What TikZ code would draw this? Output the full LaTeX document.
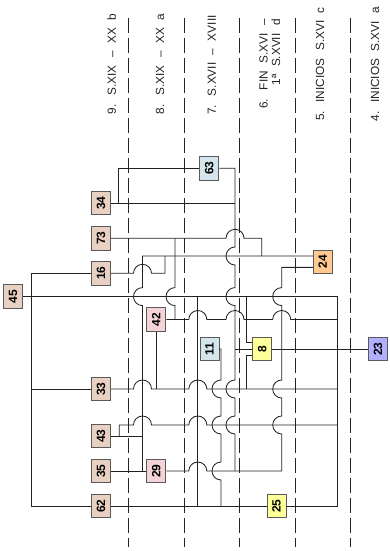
\documentclass[tikz,border=0pt]{standalone}
\usepackage{fontspec}
\setmainfont{Liberation Sans}
\newfontfamily\fasefont[WordSpace=2.3]{Liberation Sans}
\usepackage{tikz}
\definecolor{ueclay}{RGB}{232,208,195}
\definecolor{uepink}{RGB}{244,212,216}
\definecolor{uesky}{RGB}{212,230,236}
\definecolor{ueyellow}{RGB}{255,255,153}
\definecolor{ueorange}{RGB}{255,201,144}
\definecolor{ueviolet}{RGB}{176,176,255}
\definecolor{inkgrey}{RGB}{35,35,35}

\begin{document}
\begin{tikzpicture}[x=1pt,y=-1pt,
    ue/.style={draw=inkgrey!75,line width=0.9pt,minimum width=19pt,minimum height=23.5pt,inner sep=0pt,font=\bfseries\fontsize{12}{12}\selectfont},
    tie/.style={draw=inkgrey,line width=0.85pt},
    fase/.style={draw=inkgrey,line width=1pt,dash pattern=on 15pt off 5pt},
    fase label/.style={rotate=90,inner sep=0pt,align=right,text=inkgrey,font=\fasefont\fontsize{11.8}{12.5}\selectfont}]
    \useasboundingbox (0,0) rectangle (390,551);

    \foreach \xd in {128.5,184,239.5,295,350.5}
        \draw[fase] (\xd,18) -- (\xd,547);

    \node[fase label] (l9) at (111.7,64) {9. S.XIX – XX b};
    \node[fase label] (l8) at (160,64) {8. S.XIX – XX a};
    \node[fase label] (l7) at (211.7,65) {7. S.XVII – XVIII};
    \node[fase label] (l6) at (269.7,64) {6. FIN S.XVI –\\1ª S.XVII d};
    \node[fase label] (l5) at (320,64) {5. INICIOS S.XVI c};
    \node[fase label] (l4) at (375,64) {4. INICIOS S.XVI a};

    \node[ue,fill=ueclay] (n45) at (13,296.6) {\rotatebox{90}{45}};
    \node[ue,fill=ueclay] (n34) at (101,203) {\rotatebox{90}{34}};
    \node[ue,fill=ueclay] (n73) at (101,238.3) {\rotatebox{90}{73}};
    \node[ue,fill=ueclay] (n16) at (101,273.3) {\rotatebox{90}{16}};
    \node[ue,fill=ueclay] (n33) at (101,389) {\rotatebox{90}{33}};
    \node[ue,fill=ueclay] (n43) at (101,436) {\rotatebox{90}{43}};
    \node[ue,fill=ueclay] (n35) at (101,471) {\rotatebox{90}{35}};
    \node[ue,fill=ueclay] (n62) at (101,506) {\rotatebox{90}{62}};
    \node[ue,fill=uesky] (n63) at (209.3,168.3) {\rotatebox{90}{63}};
    \node[ue,fill=uesky] (n11) at (209.5,349) {\rotatebox{90}{11}};
    \node[ue,fill=uepink] (n42) at (156.3,319.5) {\rotatebox{90}{42}};
    \node[ue,fill=uepink] (n29) at (156.3,471) {\rotatebox{90}{29}};
    \node[ue,fill=ueyellow] (n8) at (262.3,349) {\rotatebox{90}{8}};
    \node[ue,fill=ueyellow] (n25) at (276.5,506) {\rotatebox{90}{25}};
    \node[ue,fill=ueorange] (n24) at (322.7,261.7) {\rotatebox{90}{24}};
    \node[ue,fill=ueviolet] (n23) at (378,349) {\rotatebox{90}{23}};

    \draw[tie] (n45.east) -- (337.5,296.6) -- (337.5,506) -- (n25.east);
    \draw[tie] (n25.west) -- (n62.east);
    \draw[tie] (n16.west) -- (31.7,273.3) -- (31.7,506) -- (n62.west);
    \draw[tie] (31.7,389) -- (n33.west);
    \draw[tie] (n16.east) -- (133.5,273.3) arc[start angle=180,end angle=0,radius=9pt] -- (165,273.3) -- (165,256);
    \draw[tie] ([yshift=5.7pt]n24.west) -- (142.5,256) -- (142.5,287.6) arc[start angle=90,end angle=270,radius=9pt] -- (142.5,471);
    \draw[tie] (n34.east) -- (235,203);
    \draw[tie] (118.5,203) -- (118.5,168.3) -- (n63.west);
    \draw[tie] (n63.east) -- (235,168.3) -- (235,247) arc[start angle=90,end angle=270,radius=9pt]
        -- (235,287.6) arc[start angle=90,end angle=270,radius=9pt]
        -- (235,380) arc[start angle=90,end angle=270,radius=9pt]
        -- (235,416) arc[start angle=90,end angle=270,radius=9pt] -- (235,471);
    \draw[tie] (n73.east) -- (226,238.3) arc[start angle=180,end angle=0,radius=9pt] -- (261.7,238.3) -- (261.7,256);
    \draw[tie] (175,238.3) -- (175,287.6) arc[start angle=90,end angle=270,radius=9pt] -- (175,319.5);
    \draw[tie] (n42.east) -- (188.8,319.5) arc[start angle=180,end angle=0,radius=9pt]
        -- (226,319.5) arc[start angle=180,end angle=0,radius=9pt]
        -- (272.7,319.5) arc[start angle=180,end angle=0,radius=9pt] -- (337.5,319.5);
    \draw[tie] (n42.south) -- (156.3,389);
    \draw[tie] (n33.east) -- (133.5,389) arc[start angle=180,end angle=0,radius=9pt]
        -- (188.8,389) arc[start angle=180,end angle=0,radius=9pt] -- (337.5,389);
    \draw[tie] (197.8,296.6) -- (197.8,506);
    \draw[tie] (n11.east) -- (221,349) -- (221,380) arc[start angle=90,end angle=270,radius=9pt]
        -- (221,416) arc[start angle=90,end angle=270,radius=9pt]
        -- (221,462) arc[start angle=90,end angle=270,radius=9pt] -- (221,506);
    \draw[tie] (235,349) -- (n8.west);
    \draw[tie] (246.5,296.6) -- (246.5,342.5) -- ([yshift=6.5pt]n8.west);
    \draw[tie] ([yshift=-6.5pt]n8.west) -- (246.5,355.5) -- (246.5,389);
    \draw[tie] (n8.east) -- (n23.west);
    \draw[tie] ([yshift=-5.7pt]n24.west) -- (281.7,267.4) -- (281.7,287.6) arc[start angle=90,end angle=270,radius=9pt]
        -- (281.7,380) arc[start angle=90,end angle=270,radius=9pt]
        -- (281.7,416) arc[start angle=90,end angle=270,radius=9pt]
        -- (281.7,471) -- (206.8,471) arc[start angle=0,end angle=180,radius=9pt] -- (n29.east);
    \draw[tie] (n35.east) -- (n29.west);
    \draw[tie] (n43.east) -- (142.5,436);
    \draw[tie] (119.3,436) -- (119.3,425) -- (133.5,425) arc[start angle=180,end angle=0,radius=9pt]
        -- (188.8,425) arc[start angle=180,end angle=0,radius=9pt] -- (337.5,425);
\end{tikzpicture}
\end{document}
